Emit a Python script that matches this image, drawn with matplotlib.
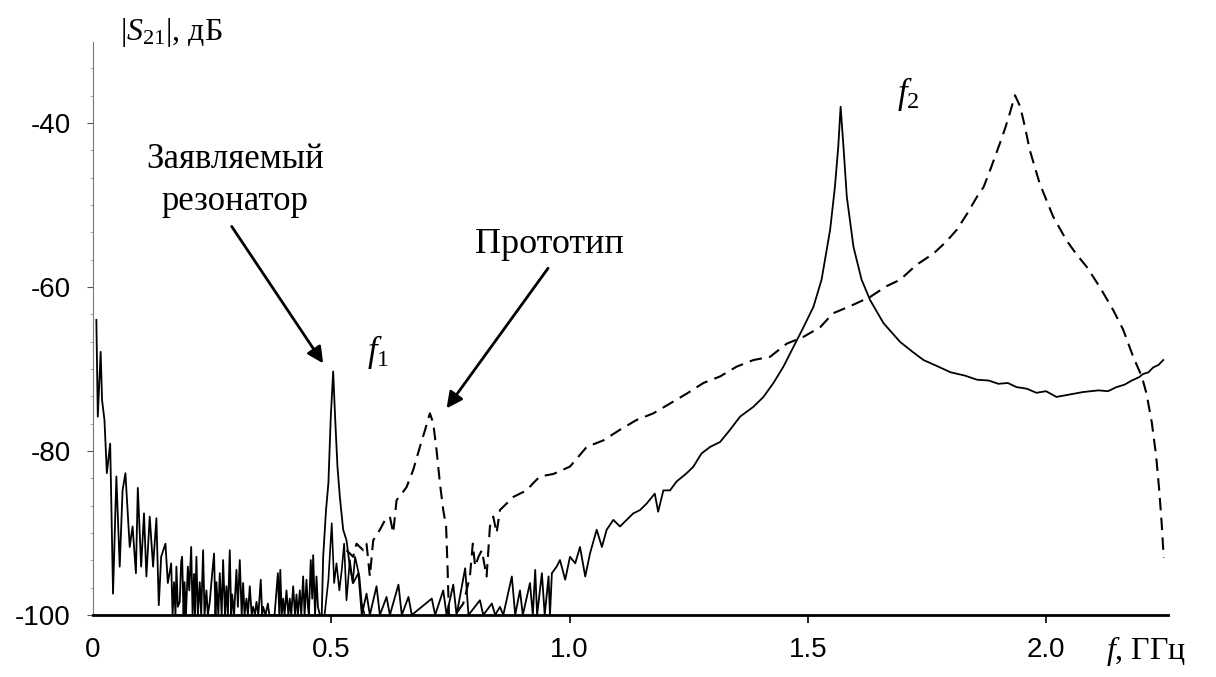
import matplotlib
matplotlib.use("Agg")
from matplotlib import pyplot as plt
from matplotlib.ticker import AutoMinorLocator

# Частоты (ГГц) и |S21| (дБ).
# Заявляемый резонатор (сплошная линия).
f_res = [0.007, 0.010, 0.016, 0.019, 0.024, 0.029, 0.036, 0.042, 0.049, 0.056,
         0.062, 0.068, 0.077, 0.083, 0.090, 0.094, 0.101, 0.107, 0.112, 0.119,
         0.126, 0.133, 0.138, 0.143, 0.152, 0.157,
         0.164, 0.167, 0.170, 0.173, 0.175, 0.178, 0.182, 0.185, 0.187, 0.190,
         0.192, 0.195, 0.199, 0.202, 0.206, 0.209, 0.212, 0.214, 0.217, 0.220,
         0.224, 0.227, 0.231, 0.234, 0.238, 0.241, 0.245, 0.250, 0.254, 0.257,
         0.259, 0.263, 0.266, 0.270, 0.273, 0.277, 0.280, 0.283, 0.287, 0.290,
         0.292, 0.296, 0.301, 0.304, 0.308, 0.312, 0.315, 0.318, 0.322, 0.325,
         0.329, 0.333, 0.336, 0.340, 0.343, 0.347, 0.352, 0.355, 0.357, 0.362,
         0.367, 0.370, 0.374, 0.381, 0.385, 0.388, 0.391, 0.393, 0.396, 0.399,
         0.402, 0.406, 0.410, 0.413, 0.416, 0.420, 0.424, 0.427, 0.430, 0.434,
         0.437, 0.441, 0.444, 0.448, 0.451, 0.453, 0.457, 0.460, 0.462, 0.466,
         0.469, 0.472, 0.476,
         0.480, 0.483, 0.489, 0.494, 0.499, 0.504,
         0.508, 0.513, 0.518, 0.525, 0.532, 0.539, 0.546, 0.557, 0.564, 0.574,
         0.581, 0.595, 0.602, 0.616, 0.623, 0.641, 0.648, 0.662, 0.669, 0.711,
         0.718, 0.735, 0.742, 0.756, 0.763, 0.781, 0.788, 0.812, 0.819, 0.837,
         0.844, 0.854, 0.861, 0.879, 0.886, 0.896, 0.902, 0.917, 0.923, 0.928,
         0.932, 0.942, 0.948, 0.956, 0.959, 0.963, 0.973, 0.980, 0.991, 1.001,
         1.012, 1.022, 1.033, 1.043, 1.057, 1.068, 1.078, 1.092, 1.106, 1.120,
         1.134, 1.148, 1.162, 1.179, 1.186, 1.197, 1.211, 1.225, 1.246, 1.260,
         1.277, 1.295, 1.316, 1.337, 1.358, 1.386, 1.407, 1.428, 1.449, 1.470,
         1.491, 1.512, 1.529, 1.547, 1.557, 1.564, 1.569, 1.575, 1.582, 1.596,
         1.613, 1.631, 1.659, 1.694, 1.720, 1.743, 1.770, 1.800, 1.830, 1.855,
         1.880, 1.900, 1.920, 1.938, 1.960, 1.980, 2.000, 2.022, 2.050, 2.078,
         2.110, 2.130, 2.148, 2.165, 2.180, 2.195, 2.204, 2.215, 2.225, 2.236,
         2.246]
s_res = [-64.0, -75.8, -67.9, -73.8, -76.2, -82.7, -79.1, -97.4, -83.1, -94.1,
         -84.8, -82.7, -91.7, -89.2, -94.9, -84.5, -94.1, -87.6, -95.3, -88.0,
         -94.1, -88.2, -98.8, -92.9, -91.3, -96.1,
         -93.7, -100.0, -96.0, -100.0, -94.1, -99.0, -98.4, -93.5, -92.9, -100.0,
         -96.0, -100.0, -94.1, -97.0, -91.7, -100.0, -95.0, -100.0, -92.9, -100.0,
         -96.0, -100.0, -92.1, -100.0, -97.0, -100.0, -98.4, -95.0, -92.5, -100.0,
         -96.0, -100.0, -94.9, -100.0, -93.3, -100.0, -96.5, -100.0, -92.1, -100.0,
         -97.5, -100.0, -94.5, -99.0, -93.3, -100.0, -96.1, -100.0, -98.0, -100.0,
         -96.5, -100.0, -99.0, -100.0, -98.4, -100.0, -95.7, -100.0, -99.0, -100.0,
         -98.6, -100.0, -100.0, -100.0, -97.0, -94.9, -100.0, -94.5, -100.0, -98.0,
         -100.0, -97.0, -100.0, -98.0, -100.0, -96.5, -100.0, -97.5, -100.0, -97.0,
         -100.0, -95.3, -100.0, -95.7, -99.0, -100.0, -93.3, -98.0, -92.7, -100.0,
         -95.3, -99.0, -100.0,
         -100.0, -92.9, -87.2, -83.9, -75.8, -70.3,
         -75.8, -81.9, -85.6, -89.6, -90.9, -94.1, -96.1, -94.9, -100.0, -97.4,
         -100.0, -96.5, -100.0, -97.8, -100.0, -96.3, -100.0, -97.8, -100.0, -98.0,
         -100.0, -97.0, -100.0, -96.3, -100.0, -94.3, -100.0, -98.2, -100.0, -98.6,
         -100.0, -99.0, -100.0, -95.3, -100.0, -97.0, -100.0, -96.1, -100.0, -94.5,
         -100.0, -94.9, -100.0, -95.3, -100.0, -94.9, -94.1, -93.3, -95.7, -92.9,
         -93.7, -91.7, -95.3, -92.5, -89.6, -91.7, -89.6, -88.4, -89.2, -88.4,
         -87.6, -87.2, -86.4, -85.2, -87.4, -84.8, -84.8, -83.7, -82.7, -81.9,
         -80.3, -79.5, -78.9, -77.4, -75.8, -74.6, -73.4, -71.7, -69.7, -67.3,
         -64.9, -62.4, -59.1, -53.0, -47.8, -42.9, -38.0, -42.9, -49.0, -55.1,
         -59.1, -61.6, -64.4, -66.7, -67.9, -68.9, -69.6, -70.4, -70.8, -71.3,
         -71.4, -71.8, -71.7, -72.2, -72.4, -72.9, -72.7, -73.4, -73.1, -72.8,
         -72.6, -72.7, -72.2, -71.9, -71.4, -71.0, -70.6, -70.4, -69.8, -69.5,
         -68.9]

# Вторая сплошная трасса (шум под пиком f1).
f_res_noise = [0.486, 0.494, 0.501, 0.506, 0.511, 0.517, 0.522, 0.527, 0.532,
               0.539, 0.545, 0.550, 0.559, 0.564, 0.570]
s_res_noise = [-100.0, -95.7, -88.8, -96.1, -93.7, -97.0, -94.5, -91.3, -98.2,
               -93.3, -96.1, -92.9, -95.3, -98.6, -100.0]

# Прототип (штриховая линия).
f_proto = [0.532, 0.546, 0.553, 0.560, 0.567, 0.574, 0.581, 0.588, 0.602, 0.613,
           0.623, 0.630, 0.637, 0.648, 0.658, 0.672, 0.686, 0.697, 0.707, 0.714,
           0.721, 0.728, 0.735, 0.741, 0.744, 0.747, 0.760, 0.777, 0.784, 0.791,
           0.797, 0.802, 0.809, 0.816, 0.826, 0.833, 0.840, 0.847, 0.854, 0.868,
           0.882, 0.896, 0.910, 0.924, 0.938, 0.966, 1.001, 1.036, 1.071, 1.106,
           1.141, 1.176, 1.211, 1.246, 1.281, 1.316, 1.351, 1.386, 1.421, 1.456,
           1.490, 1.526, 1.553, 1.590, 1.631, 1.665, 1.694, 1.728, 1.764, 1.790,
           1.813, 1.835, 1.855, 1.869, 1.883, 1.903, 1.915, 1.924, 1.935, 1.946,
           1.956, 1.966, 1.987, 2.015, 2.043, 2.064, 2.085, 2.113, 2.141, 2.162,
           2.183, 2.201, 2.211, 2.222, 2.231, 2.238, 2.243, 2.247]
s_proto = [-92.1, -92.9, -91.3, -91.7, -92.1, -91.3, -95.3, -90.9, -89.6, -88.4,
           -88.0, -90.0, -86.0, -85.2, -84.4, -82.3, -79.5, -77.4, -75.4, -76.6,
           -79.9, -83.9, -87.2, -89.2, -94.1, -100.0, -100.0, -98.6, -97.0, -95.3,
           -91.3, -94.1, -92.9, -92.1, -95.3, -89.2, -88.0, -90.0, -87.2, -86.4,
           -85.6, -85.2, -84.8, -83.9, -83.1, -82.8, -81.9, -79.5, -78.7, -77.4,
           -76.2, -75.4, -74.2, -73.0, -71.7, -70.9, -69.7, -68.9, -68.5, -66.9,
           -66.1, -64.9, -63.2, -62.3, -61.2, -59.9, -59.1, -57.3, -55.9, -54.5,
           -53.0, -51.0, -49.0, -47.8, -45.7, -42.5, -40.5, -38.8, -36.6, -38.0,
           -40.5, -43.3, -47.4, -51.4, -54.3, -56.0, -57.5, -60.0, -62.8, -65.2,
           -68.5, -70.9, -73.0, -76.5, -80.5, -85.0, -89.0, -93.0]

x_ticks = [0, 0.5, 1.0, 1.5, 2.0]
x_ticklabels = ['0', '0.5', '1.0', '1.5', '2.0']
y_ticks = [-40, -60, -80, -100]

plt.rcParams['axes.unicode_minus'] = False
plt.rcParams['mathtext.fontset'] = 'custom'
plt.rcParams['mathtext.rm'] = 'Liberation Serif'
plt.rcParams['mathtext.it'] = 'Liberation Serif:italic'

fig = plt.figure(figsize=(12.16, 6.77), dpi=100)
ax = fig.add_axes([0.0765, 0.0916, 0.884, 0.8464])

ax.plot(f_res, s_res, color='black', lw=1.3)
ax.plot(f_res_noise, s_res_noise, color='black', lw=1.2)
ax.plot(f_proto, s_proto, color='black', lw=1.5, dashes=(6, 3.5))

ax.set_xlim(0, 2.256)
ax.set_ylim(-100, -30.1)

# Оси: только левая и нижняя.
ax.spines['top'].set_visible(False)
ax.spines['right'].set_visible(False)
ax.spines['bottom'].set_linewidth(2.0)
ax.spines['left'].set_linewidth(0.8)
ax.spines['left'].set_color('#777777')

ax.set_xticks(x_ticks)
ax.set_xticklabels(x_ticklabels)
ax.set_yticks(y_ticks)
ax.yaxis.set_minor_locator(AutoMinorLocator(6))
ax.tick_params(axis='x', direction='out', length=6, width=1.2, pad=10,
               labelsize=20, labelfontfamily='Liberation Sans')
ax.tick_params(axis='y', direction='out', length=4, width=0.8, pad=12,
               color='#555555', labelsize=20, labelfontfamily='Liberation Sans')
ax.tick_params(axis='y', which='minor', length=2.5, width=0.6, color='#999999')
ax.xaxis.get_major_ticks()[0].tick1line.set_visible(False)

serif = 'Liberation Serif'
ax.text(0.057, -29.9, r'$|S_{21}|$, дБ', fontsize=23, family=serif,
        ha='left', va='baseline', clip_on=False)
ax.text(2.126, -105.4, r'$f$, ГГц', fontsize=23, family=serif,
        ha='left', va='baseline', clip_on=False)
ax.text(0.298, -45.5, 'Заявляемый', fontsize=25, family=serif, ha='center', va='baseline')
ax.text(0.298, -50.6, 'резонатор', fontsize=25, family=serif, ha='center', va='baseline')
ax.text(0.957, -55.9, 'Прототип', fontsize=26, family=serif, ha='center', va='baseline')
ax.text(0.598, -67.9, r'$f_1$', fontsize=25, ha='center', va='center')
ax.text(1.710, -36.5, r'$f_2$', fontsize=25, ha='center', va='center')

arrow = dict(arrowstyle='-|>', color='black', lw=2.0, mutation_scale=24,
             shrinkA=0, shrinkB=0)
ax.annotate('', xy=(0.483, -69.3), xytext=(0.291, -52.6), arrowprops=arrow)
ax.annotate('', xy=(0.742, -74.8), xytext=(0.955, -57.7), arrowprops=arrow)

fig.savefig('out.png', dpi=100)
